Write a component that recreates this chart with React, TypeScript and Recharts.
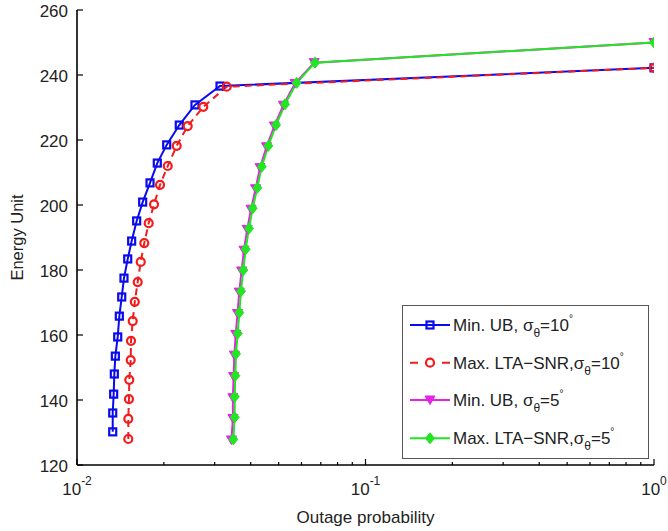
import { LineChart, Line, XAxis, YAxis, Legend } from "recharts"

// Min. UB, sigma = 10 deg
const minUb10X = [0.0133, 0.0133, 0.0134, 0.01347, 0.01358, 0.01384, 0.01402, 0.01429, 0.01455, 0.01499, 0.01547, 0.0161, 0.01689, 0.01791, 0.01898, 0.02046, 0.02262, 0.02564, 0.03131, 1]
const minUb10Y = [130.2, 136, 141.8, 148, 153.5, 159.4, 165.8, 171.7, 177.5, 183.4, 188.9, 195.1, 200.9, 206.8, 212.9, 218.5, 224.6, 230.8, 236.6, 242.2]

// Max. LTA-SNR, sigma = 10 deg
const maxLta10X = [0.01506, 0.01506, 0.01514, 0.01518, 0.01535, 0.01539, 0.0156, 0.01586, 0.01623, 0.01663, 0.01711, 0.01772, 0.01849, 0.0194, 0.02063, 0.02216, 0.02419, 0.0274, 0.03303, 1]
const maxLta10Y = [128, 134.2, 140.3, 146.2, 152.3, 158.2, 164.3, 170.2, 176.3, 182.5, 188.3, 194.4, 200.2, 206.2, 212, 218.2, 224.3, 230.2, 236.4, 242.2]

// Min. UB, sigma = 5 deg
const minUb5X = [0.0343, 0.0347, 0.0347, 0.0349, 0.0351, 0.0355, 0.036, 0.0365, 0.0372, 0.0379, 0.0389, 0.0401, 0.0416, 0.0431, 0.0454, 0.0483, 0.0519, 0.057, 0.0664, 1]
const minUb5Y = [127.7, 134.3, 140.7, 147.2, 153.8, 160.2, 166.6, 173.2, 179.7, 186.1, 192.5, 198.7, 205, 211.5, 217.9, 224.3, 230.7, 237.4, 243.8, 250]

// Max. LTA-SNR, sigma = 5 deg
const maxLta5X = [0.03482, 0.03521, 0.03521, 0.03538, 0.03557, 0.03606, 0.03653, 0.03702, 0.03771, 0.03843, 0.03946, 0.04064, 0.04217, 0.04368, 0.04605, 0.04896, 0.0526, 0.05774, 0.06683, 1]
const maxLta5Y = [127.9, 134.7, 141, 147.5, 154.2, 160.5, 166.9, 173.5, 180, 186.4, 192.8, 199, 205.3, 211.8, 218.2, 224.6, 231, 237.6, 243.8, 250]

const xTicks = [0.01, 0.02, 0.03, 0.04, 0.05, 0.06, 0.07, 0.08, 0.09, 0.1, 0.2, 0.3, 0.4, 0.5, 0.6, 0.7, 0.8, 0.9, 1]
const yTicks = [120, 140, 160, 180, 200, 220, 240, 260]

const legendNames = ["Min. UB, σ", "Max. LTA−SNR,σ", "Min. UB, σ", "Max. LTA−SNR,σ"]
const legendDegrees = ["10", "10", "5", "5"]

const BLUE = "#0a0aee"
const RED = "#f21c1c"
const MAGENTA = "#e622e6"
const GREEN = "#22e622"
const FONT = "'Liberation Sans', Arial, Helvetica, sans-serif"
const TEXT = "#222"

const toPoints = (xs: number[], ys: number[]) => xs.map((x, i) => ({ x, y: ys[i] }))

const isMajor = (v: number) => {
  const e = Math.round(Math.log10(v))
  return Math.abs(v - Math.pow(10, e)) < 1e-9
}

// --- ticks (MATLAB style: drawn inward) ---
function BottomTick(props: any) {
  const { x, y, payload } = props
  const v = payload.value
  const major = isMajor(v)
  const exp = Math.round(Math.log10(v))
  return (
    <g>
      <line x1={x} x2={x} y1={y} y2={y - (major ? 6 : 3)} stroke="#000" strokeWidth={1.2} />
      {major && (
        <text x={x} y={y + 30} textAnchor="middle" fontSize={17} fontFamily={FONT} fill={TEXT}>
          10
          <tspan dy={-10} fontSize={12}>{exp}</tspan>
        </text>
      )}
    </g>
  )
}

function TopTick(props: any) {
  const { x, y, payload } = props
  const major = isMajor(payload.value)
  return <line x1={x} x2={x} y1={y} y2={y + (major ? 6 : 3)} stroke="#000" strokeWidth={1.2} />
}

function LeftTick(props: any) {
  const { x, y, payload } = props
  return (
    <g>
      <line x1={x} x2={x + 6} y1={y} y2={y} stroke="#000" strokeWidth={1.2} />
      <text x={x - 9} y={y + 7} textAnchor="end" fontSize={17} fontFamily={FONT} fill={TEXT}>
        {payload.value}
      </text>
    </g>
  )
}

function RightTick(props: any) {
  const { x, y } = props
  return <line x1={x} x2={x - 6} y1={y} y2={y} stroke="#000" strokeWidth={1.2} />
}

// --- markers ---
function Square(props: any) {
  const { cx, cy } = props
  if (cx == null || cy == null) return null
  return <rect x={cx - 3.5} y={cy - 3.5} width={7} height={7} fill="none" stroke={BLUE} strokeWidth={2.2} />
}

function Circle(props: any) {
  const { cx, cy } = props
  if (cx == null || cy == null) return null
  return <circle cx={cx} cy={cy} r={4} fill="none" stroke={RED} strokeWidth={2.2} />
}

function TriangleDown(props: any) {
  const { cx, cy } = props
  if (cx == null || cy == null) return null
  return <polygon points={`${cx - 5},${cy - 4} ${cx + 5},${cy - 4} ${cx},${cy + 4.5}`} fill={MAGENTA} stroke={MAGENTA} strokeWidth={1} />
}

function Diamond(props: any) {
  const { cx, cy } = props
  if (cx == null || cy == null) return null
  return <polygon points={`${cx},${cy - 5.5} ${cx + 4.5},${cy} ${cx},${cy + 5.5} ${cx - 4.5},${cy}`} fill={GREEN} stroke={GREEN} strokeWidth={1} />
}

const legendMarkers = [Square, Circle, TriangleDown, Diamond]
const legendColors = [BLUE, RED, MAGENTA, GREEN]
const legendDashes = [undefined, "8 24", undefined, undefined]

function LegendBox() {
  const rowY = [20, 57.7, 95, 133.3]
  return (
    <svg width={247} height={154} style={{ display: "block" }}>
      <rect x={0.5} y={0.5} width={246} height={153} fill="#fff" stroke="#555" strokeWidth={1} />
      {legendNames.map((name, i) => {
        const cy = rowY[i]
        const Marker = legendMarkers[i]
        return (
          <g key={i}>
            <line x1={8} x2={48} y1={cy} y2={cy} stroke={legendColors[i]} strokeWidth={2} strokeDasharray={legendDashes[i]} />
            <Marker cx={28} cy={cy} />
            <text x={51} y={cy + 6} fontSize={17} fontFamily={FONT} fill={TEXT}>
              {name}
              <tspan dy={6} fontSize={12}>θ</tspan>
              <tspan dy={-6} fontSize={17}>={legendDegrees[i]}</tspan>
              <tspan dy={-9} fontSize={10}>°</tspan>
            </text>
          </g>
        )
      })}
    </svg>
  )
}

function XTitle(props: any) {
  const { viewBox } = props
  return (
    <text x={viewBox.x + viewBox.width / 2} y={viewBox.y + 58} textAnchor="middle" fontSize={17} fontFamily={FONT} fill={TEXT}>
      Outage probability
    </text>
  )
}

function YTitle(props: any) {
  const { viewBox } = props
  const cx = viewBox.x + 17
  const cy = viewBox.y + viewBox.height / 2
  return (
    <text x={cx} y={cy} transform={`rotate(-90 ${cx} ${cy})`} textAnchor="middle" dominantBaseline="central" fontSize={16.5} fontFamily={FONT} fill={TEXT}>
      Energy Unit
    </text>
  )
}

export default function App() {
  const axisLine = { stroke: "#000", strokeWidth: 1.6 }
  return (
    <div style={{ position: "absolute", left: 0, top: 0, background: "#fff" }}>
      <LineChart width={668} height={531} margin={{ top: 10, right: 14, bottom: 0, left: 0 }}>
        <XAxis
          dataKey="x"
          type="number"
          scale="log"
          domain={[0.01, 1]}
          allowDataOverflow
          ticks={xTicks}
          interval={0}
          tickSize={0}
          tickMargin={0}
          height={66}
          axisLine={axisLine}
          tick={<BottomTick />}
          label={{ content: <XTitle /> }}
        />
        <XAxis
          xAxisId="top"
          orientation="top"
          dataKey="x"
          type="number"
          scale="log"
          domain={[0.01, 1]}
          allowDataOverflow
          ticks={xTicks}
          interval={0}
          tickSize={0}
          tickMargin={0}
          height={0}
          axisLine={axisLine}
          tick={<TopTick />}
        />
        <YAxis
          type="number"
          domain={[120, 260]}
          allowDataOverflow
          ticks={yTicks}
          interval={0}
          tickSize={0}
          tickMargin={0}
          width={77}
          axisLine={axisLine}
          tick={<LeftTick />}
          label={{ content: <YTitle /> }}
        />
        <YAxis
          yAxisId="right"
          orientation="right"
          type="number"
          domain={[120, 260]}
          allowDataOverflow
          ticks={yTicks}
          interval={0}
          tickSize={0}
          tickMargin={0}
          width={0}
          axisLine={axisLine}
          tick={<RightTick />}
        />
        <Line data={toPoints(minUb10X, minUb10Y)} dataKey="y" stroke={BLUE} strokeWidth={2} dot={<Square />} activeDot={false} isAnimationActive={false} />
        <Line data={toPoints(maxLta10X, maxLta10Y)} dataKey="y" stroke={RED} strokeWidth={2} strokeDasharray="7 5" dot={<Circle />} activeDot={false} isAnimationActive={false} />
        <Line data={toPoints(minUb5X, minUb5Y)} dataKey="y" stroke={MAGENTA} strokeWidth={2} dot={<TriangleDown />} activeDot={false} isAnimationActive={false} />
        <Line data={toPoints(maxLta5X, maxLta5Y)} dataKey="y" stroke={GREEN} strokeWidth={2} dot={<Diamond />} activeDot={false} isAnimationActive={false} />
        <Legend
          layout="vertical"
          align="center"
          verticalAlign="middle"
          wrapperStyle={{ position: "absolute", left: 402, top: 305, width: 247, height: 154 }}
          content={<LegendBox />}
        />
      </LineChart>
    </div>
  )
}
